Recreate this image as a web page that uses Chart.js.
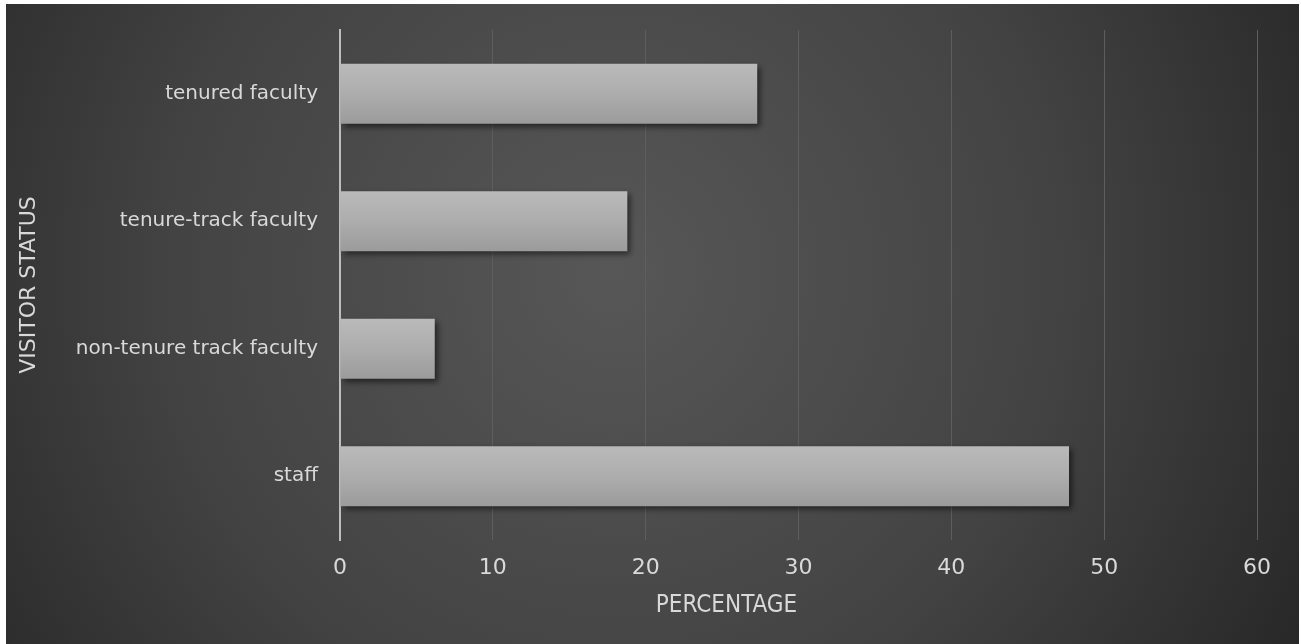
<!DOCTYPE html>
<html>
<head>
<meta charset="utf-8">
<script src="https://cdn.jsdelivr.net/npm/chart.js@4/dist/chart.umd.min.js"></script>
<style>
  html, body { margin: 0; padding: 0; background: #fff; }
  #wrap { position: absolute; left: 6px; top: 4px; width: 1293px; height: 640px; }
</style>
</head>
<body>
<div id="wrap"><canvas id="statusChart"></canvas></div>
<script>
// data
const categories = ['tenured faculty', 'tenure-track faculty', 'non-tenure track faculty', 'staff'];
const percentages = [27.3, 18.8, 6.2, 47.7];
const xTicks = [0, 10, 20, 30, 40, 50, 60];
const xTitle = 'PERCENTAGE';

const textColor = '#d9d9d9';

// dark radial background behind everything
const bgPlugin = {
  id: 'bg',
  beforeDraw(chart) {
    const c = chart.ctx, w = chart.width, h = chart.height;
    const g = c.createRadialGradient(w * 0.47, h * 0.42, 0, w * 0.47, h * 0.42, w * 0.62);
    g.addColorStop(0, '#575757');
    g.addColorStop(0.55, '#434343');
    g.addColorStop(1, '#262626');
    c.save();
    c.fillStyle = g;
    c.fillRect(0, 0, w, h);
    c.restore();
  }
};

// soft drop shadow under the bars
const shadowPlugin = {
  id: 'barShadow',
  beforeDatasetsDraw(chart) {
    const c = chart.ctx;
    c.save();
    c.shadowColor = 'rgba(0,0,0,0.55)';
    c.shadowBlur = 6;
    c.shadowOffsetX = 3;
    c.shadowOffsetY = 3;
  },
  afterDatasetsDraw(chart) {
    chart.ctx.restore();
  }
};

// x axis title sits a bit left of the plot centre in the original
const xTitlePlugin = {
  id: 'xTitle',
  afterDraw(chart) {
    const c = chart.ctx, area = chart.chartArea;
    c.save();
    c.fillStyle = textColor;
    c.font = '24px "DejaVu Sans Condensed"';
    c.textAlign = 'center';
    c.textBaseline = 'middle';
    c.fillText(xTitle, (area.left + area.right) / 2 - 72, chart.height - 38);
    c.restore();
  }
};

function barFill(ctx) {
  const chart = ctx.chart;
  if (!chart.chartArea || !chart.scales.y) return '#aaaaaa';
  const yc = chart.scales.y.getPixelForValue(ctx.dataIndex);
  const half = 30;
  const g = chart.ctx.createLinearGradient(0, yc - half, 0, yc + half);
  g.addColorStop(0, '#bababa');
  g.addColorStop(0.5, '#adadad');
  g.addColorStop(1, '#9b9b9b');
  return g;
}

new Chart('statusChart', {
  type: 'bar',
  data: {
    labels: categories,
    datasets: [{
      data: percentages,
      backgroundColor: barFill,
      borderWidth: 0,
      categoryPercentage: 1,
      barPercentage: 0.47
    }]
  },
  plugins: [bgPlugin, shadowPlugin, xTitlePlugin],
  options: {
    indexAxis: 'y',
    responsive: true,
    maintainAspectRatio: false,
    animation: false,
    layout: { padding: { top: 26, right: 42, left: 0, bottom: 0 } },
    plugins: {
      legend: { display: false },
      tooltip: { enabled: false }
    },
    scales: {
      x: {
        min: 0,
        max: 60,
        afterBuildTicks(scale) {
          scale.ticks = xTicks.map(v => ({ value: v }));
        },
        afterFit(scale) { scale.height = 104; },
        grid: { color: '#5e5e5e', lineWidth: 1, drawTicks: false },
        border: { display: false },
        ticks: {
          color: textColor,
          padding: 15,
          font: { family: 'DejaVu Sans', size: 22 }
        }
      },
      y: {
        z: 1,
        afterFit(scale) {
          scale.width = 334;
          scale.paddingTop = 0;
          scale.paddingBottom = 0;
        },
        grid: { display: false, drawTicks: false },
        border: { display: true, color: '#bdbdbd', width: 2 },
        ticks: {
          color: textColor,
          padding: 22,
          font: { family: 'DejaVu Sans', size: 20 }
        },
        title: {
          display: true,
          text: 'VISITOR STATUS',
          color: textColor,
          padding: { top: 10, bottom: 0 },
          font: { family: 'DejaVu Sans', size: 22 }
        }
      }
    }
  }
});
</script>
</body>
</html>
